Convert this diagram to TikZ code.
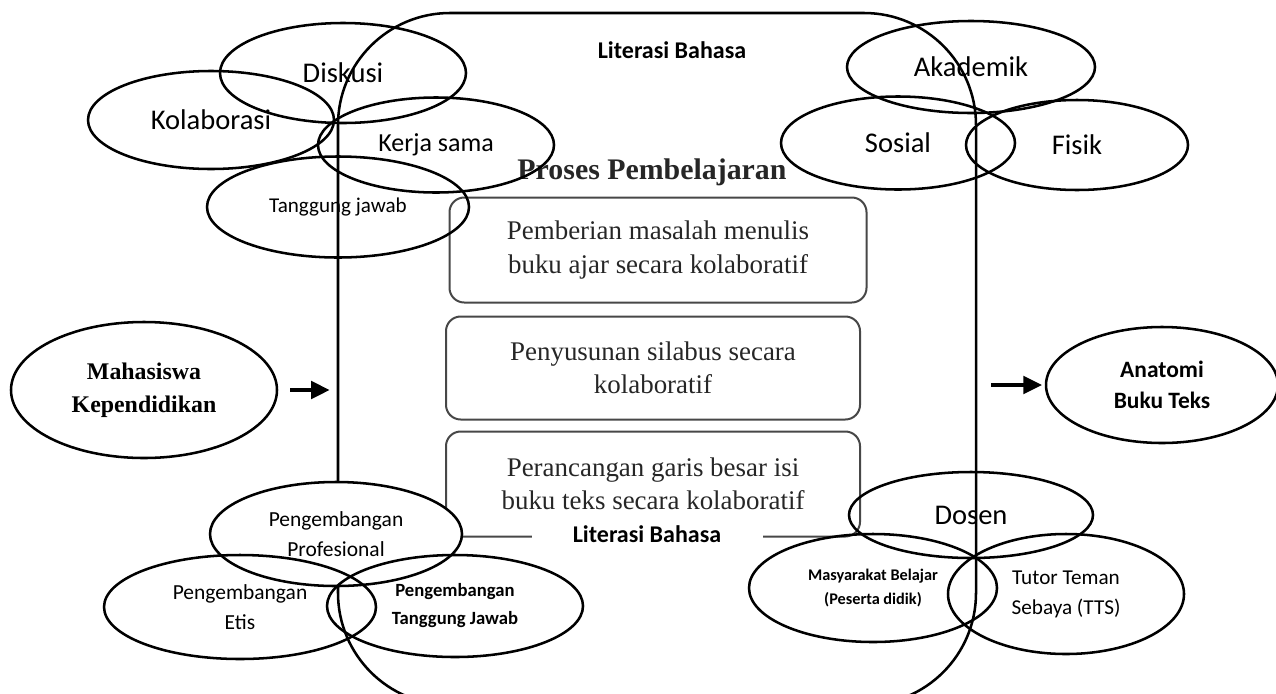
\documentclass[tikz,border=0pt]{standalone}
\usepackage{fontspec}
\setmainfont{Liberation Serif}
\newfontfamily\carlito{Carlito}
\usetikzlibrary{positioning,shapes,arrows.meta}

\tikzstyle{oval}=[ellipse, draw, line width=1.9pt, inner sep=0pt, align=center, font=\carlito\fontsize{21.4}{26}\selectfont]
\tikzstyle{stepbox}=[rectangle, rounded corners=11pt, draw=black!72, line width=1.5pt, minimum width=310.5pt, minimum height=77.25pt, inner sep=2pt, align=center, text=black!85, font=\fontsize{20.2}{25}\selectfont]
\tikzstyle{lit}=[font=\carlito\bfseries\fontsize{18}{22}\selectfont]
\tikzstyle{arr}=[line width=3pt, -{Triangle[length=14pt, width=13pt]}]

\begin{document}
\begin{tikzpicture}[x=0.75pt, y=-0.75pt]
    \useasboundingbox (0,0) rectangle (1276,693);

    \node (frame) [draw, line width=1.9pt, rounded corners=84pt, minimum width=478.5pt, minimum height=519pt, inner sep=0pt] at (657,359) {};
    \node (littop) [lit] at (672,50) {Literasi Bahasa};

    \node (proses) [font=\bfseries\fontsize{22.4}{27}\selectfont, text=black!85] at (652,172) {Proses Pembelajaran};
    \node (pb1) [stepbox, minimum width=312.75pt, minimum height=78.75pt] at (658,250) {Pemberian masalah menulis\\buku ajar secara kolaboratif};
    \node (pb2) [stepbox, below=9pt of pb1, xshift=-3.75pt] {Penyusunan silabus secara\\kolaboratif};
    \node (pb3) [stepbox, below=7.5pt of pb2, minimum height=78.75pt] {Perancangan garis besar isi\\buku teks secara kolaboratif};
    \node (litbot) [lit, fill=white, inner xsep=31pt, inner ysep=2pt] at (647,534) {Literasi Bahasa};

%left top
    \node (disk) [oval, minimum width=184.5pt, minimum height=75pt] at (343,73) {Diskusi};
    \node (kol) [oval, minimum width=184.5pt, minimum height=73.5pt] at (211,120) {Kolaborasi};
    \node (kerja) [oval, minimum width=177pt, minimum height=71.25pt, font=\carlito\fontsize{19.5}{24}\selectfont] at (436,145) {Kerja sama};
    \node (tgj) [oval, minimum width=196.5pt, minimum height=75.75pt, font=\carlito\fontsize{15.8}{19}\selectfont] at (338,207) {Tanggung jawab};

%right top
    \node (akad) [oval, minimum width=186pt, minimum height=69pt] at (971,67) {Akademik};
    \node (sos) [oval, minimum width=175.5pt, minimum height=69.75pt] at (898,143) {Sosial};
    \node (fis) [oval, minimum width=166.5pt, minimum height=67.5pt] at (1077,145) {Fisik};

%input and output
    \node (mhs) [oval, minimum width=199.5pt, minimum height=102pt, font=\bfseries\fontsize{17.9}{24.75}\selectfont] at (144,390) {Mahasiswa\\Kependidikan};
    \node (ata) [oval, minimum width=174pt, minimum height=87pt, font=\carlito\bfseries\fontsize{17.6}{23.25}\selectfont] at (1162,385) {Anatomi\\Buku Teks};

%left bottom
    \node (prof) [oval, fill=white, minimum width=189pt, minimum height=78pt, font=\carlito\fontsize{16.1}{22.5}\selectfont] at (336,534) {Pengembangan\\Profesional};
    \node (etis) [oval, minimum width=204pt, minimum height=78pt, font=\carlito\fontsize{16.1}{22.5}\selectfont] at (240,607) {Pengembangan\\Etis};
    \node (tjw) [oval, minimum width=192pt, minimum height=76.5pt, font=\carlito\bfseries\fontsize{14}{21}\selectfont] at (455,606) {Pengembangan\\Tanggung Jawab};

%right bottom
    \node (dos) [oval, minimum width=183pt, minimum height=64.5pt] at (971,515) {Dosen};
    \node (mas) [oval, minimum width=186pt, minimum height=81pt, font=\carlito\bfseries\fontsize{12.2}{17.3}\selectfont] at (873,588) {Masyarakat Belajar\\(Peserta didik)};
    \node (tut) [oval, minimum width=177pt, minimum height=90pt, font=\carlito\fontsize{15.9}{22.5}\selectfont] at (1066,594) {Tutor Teman\\Sebaya (TTS)};

%arrows
    \draw[arr, shorten <=9pt, shorten >=5.25pt] (mhs.east) -- (mhs.east -| frame.west);
    \draw[arr, shorten <=10.5pt, shorten >=2pt] (ata.west -| frame.east) -- (ata.west);

\end{tikzpicture}
\end{document}
